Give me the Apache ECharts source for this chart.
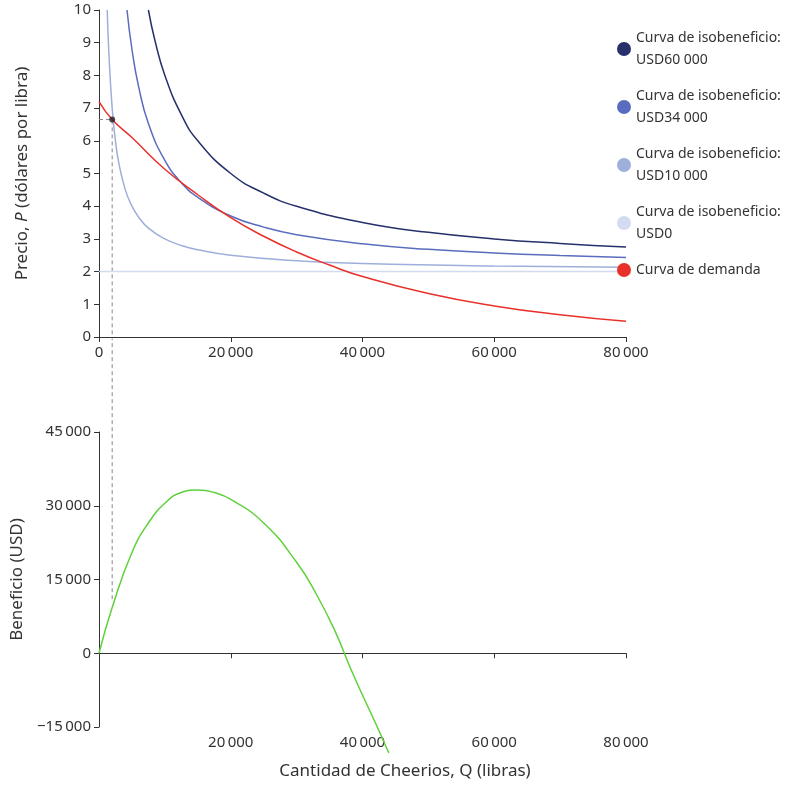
<!DOCTYPE html>
<html><head><meta charset="utf-8">
<script src="https://cdn.jsdelivr.net/npm/echarts@6/dist/echarts.min.js"></script>
<style>html,body{margin:0;background:#fff}#c{width:810px;height:793px}</style>
</head><body><div id="c"></div>
<script>
// points: [Q, P]
const iso60000 = [[7500,10],[8500,9.06],[10000,8],[12500,6.8],[15000,6],[20000,5],[25000,4.4],[30000,4],[40000,3.5],[50000,3.2],[60000,3],[70000,2.86],[80000,2.75]];
const iso34000 = [[4250,10],[5000,8.8],[6000,7.67],[7500,6.53],[10000,5.4],[12500,4.72],[15000,4.27],[20000,3.7],[25000,3.36],[30000,3.13],[40000,2.85],[50000,2.68],[60000,2.57],[70000,2.49],[80000,2.43]];
const iso10000 = [[1250,10],[1500,8.67],[2000,7],[2500,6],[3000,5.33],[4000,4.5],[5000,4],[6000,3.67],[7500,3.33],[10000,3],[12500,2.8],[15000,2.67],[20000,2.5],[30000,2.33],[40000,2.25],[60000,2.17],[80000,2.13]];
const iso0 = [[0,2],[80000,2]];
const demand = [[0,7.2],[2000,6.65],[5000,6.1],[10000,5.13],[15000,4.35],[20000,3.65],[25000,3.08],[30000,2.6],[35000,2.2],[40000,1.85],[50000,1.33],[60000,0.95],[70000,0.68],[80000,0.48]];
const profit = [[0,0],[2000,9300],[5000,20500],[7500,26500],[10000,30500],[12500,32700],[15000,33200],[17500,32700],[20000,31300],[25000,26500],[30000,18500],[33000,12000],[36000,4000],[38000,-2500],[40000,-8500],[42000,-14300],[44000,-20300]];
const chosen = [2000, 6.65];
const chosenProfit = 11000;
const legendNames = ['Curva de isobeneficio:\nUSD60 000','Curva de isobeneficio:\nUSD34 000','Curva de isobeneficio:\nUSD10 000','Curva de isobeneficio:\nUSD0','Curva de demanda'];
const colors = ['#26306b','#5a6cbd','#9eafdc','#d3dbf1','#e8312a'];

const fmt = v => v === 0 ? '0' : (v < 0 ? '\u2212' : '') + Math.abs(v).toLocaleString('en-US').replace(/,/g, '\u2009');
const font = 'Noto Sans';
const lbl = {color:'#333', fontFamily:font, fontSize:15};
const axLine = {show:true, lineStyle:{color:'#333', width:1}};

const chart = echarts.init(document.getElementById('c'));
chart.setOption({
  animation:false,
  textStyle:{fontFamily:font},
  grid:[{left:99, top:10, width:527, height:327, outerBoundsMode:'none'},
        {left:99, top:432, width:527, height:295, outerBoundsMode:'none'}],
  legend:{orient:'vertical', left:612, top:22, itemWidth:14, itemHeight:14, icon:'circle', itemGap:14,
    textStyle:{fontFamily:font, fontSize:14, color:'#333', lineHeight:22}, data:legendNames},
  graphic:[{type:'text', left:'center', top:763, style:{text:'Cantidad de Cheerios, Q (libras)', fontFamily:font, fontSize:17, fill:'#333'}}],
  xAxis:[
    {gridIndex:0, type:'value', min:0, max:80000, interval:20000, axisLine:axLine, axisTick:{show:true, length:5},
     splitLine:{show:false}, axisLabel:Object.assign({formatter:fmt, margin:8}, lbl)},
    {gridIndex:1, type:'value', min:0, max:80000, interval:20000, axisLine:Object.assign({onZero:true}, axLine),
     axisTick:{show:true, length:5}, splitLine:{show:false},
     axisLabel:Object.assign({formatter:v => v === 0 ? '' : fmt(v), margin:8}, lbl)}
  ],
  yAxis:[
    {gridIndex:0, type:'value', min:0, max:10, interval:1, axisLine:axLine, axisTick:{show:true, length:5},
     splitLine:{show:false}, axisLabel:lbl,
     name:'{a|Precio, }{i|P}{a| (dólares por libra)}', nameLocation:'middle', nameGap:68,
     nameTextStyle:{rich:{a:{fontFamily:font, fontSize:17, color:'#333'}, i:{fontFamily:font, fontSize:17, color:'#333', fontStyle:'italic'}}}},
    {gridIndex:1, type:'value', min:-15000, max:45000, interval:15000, axisLine:axLine, axisTick:{show:true, length:5},
     splitLine:{show:false}, axisLabel:Object.assign({formatter:fmt}, lbl),
     name:'Beneficio (USD)', nameLocation:'middle', nameGap:68, nameTextStyle:{fontFamily:font, fontSize:17, color:'#333'}}
  ],
  series:[
    {name:legendNames[0], type:'line', data:iso60000, smooth:true, showSymbol:false, color:colors[0], lineStyle:{width:1.5}},
    {name:legendNames[1], type:'line', data:iso34000, smooth:true, showSymbol:false, color:colors[1], lineStyle:{width:1.5}},
    {name:legendNames[2], type:'line', data:iso10000, smooth:true, showSymbol:false, color:colors[2], lineStyle:{width:1.5}},
    {name:legendNames[3], type:'line', data:iso0, showSymbol:false, color:colors[3], lineStyle:{width:1.5}},
    {name:legendNames[4], type:'line', data:demand, smooth:true, showSymbol:false, color:colors[4], lineStyle:{width:1.5}, z:5},
    {type:'line', data:[[0,chosen[1]],chosen,[chosen[0],0]], showSymbol:false, silent:true,
     lineStyle:{color:'#888', width:1, type:[4,3]}, z:1},
    {type:'scatter', data:[chosen], symbolSize:6, itemStyle:{color:'#222'}, z:10},
    {type:'line', xAxisIndex:1, yAxisIndex:1, data:profit, smooth:0.5, showSymbol:false, clip:false, color:'#5fd13a', lineStyle:{width:1.5}},
    {type:'line', xAxisIndex:1, yAxisIndex:1, data:[[chosen[0],chosenProfit],[chosen[0],64000]], showSymbol:false, clip:false, silent:true,
     lineStyle:{color:'#888', width:1, type:[4,3]}}
  ]
});
</script></body></html>
